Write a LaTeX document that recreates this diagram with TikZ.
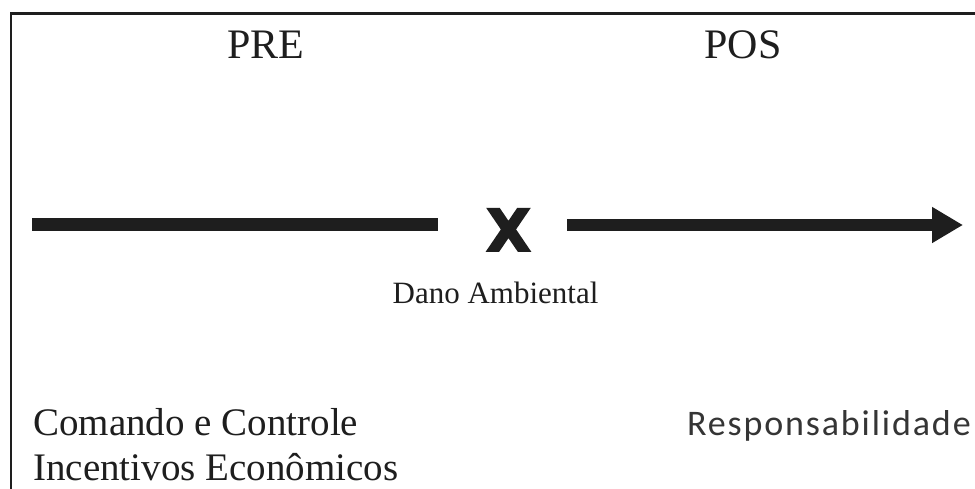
\documentclass[tikz,border=0pt]{standalone}
\usepackage{fontspec}
\setmainfont{Liberation Serif}
\newfontfamily\xfont[FakeBold=3]{DejaVu Sans Bold}
\newfontfamily\calfont[LetterSpace=5.2]{Carlito}
\usetikzlibrary{arrows.meta}
\definecolor{ink}{HTML}{1E1E1E}
\tikzset{
  lbl/.style={inner sep=0pt, text=ink},
  bar/.style={draw=ink, line width=13pt, line cap=butt},
}
\begin{document}
\begin{tikzpicture}[x=1pt,y=-1pt]
\useasboundingbox (0,0) rectangle (975,488);
\clip (0,0) rectangle (975,488);
\fill[white] (0,0) rectangle (975,488);
\draw[ink, line width=2.8pt] (11,520) -- (11,13.5) -- (1000,13.5);
\node[lbl, anchor=base, font=\fontsize{42}{42}\selectfont] (pre) at (266,58) {PRE};
\node[lbl, anchor=base, font=\fontsize{42}{42}\selectfont] (pos) at (743,58) {POS};
\coordinate (a1) at (32,224.5);
\coordinate (a2) at (438,224.5);
\draw[bar] (a1) -- (a2);
\node[lbl, anchor=base, font=\xfont\fontsize{58}{58}\selectfont] (x) at (508.5,251) {X};
\coordinate (b1) at (567,225);
\coordinate (b2) at (963,225);
\draw[bar, line width=12pt, -{Triangle[length=31pt,width=34pt]}] (b1) -- (b2);
\node[lbl, anchor=base, font=\fontsize{31}{31}\selectfont] (dano) at (495.5,303) {Dano Ambiental};
\node[lbl, anchor=base west, font=\fontsize{39}{39}\selectfont] (cc) at (33,435) {Comando e Controle};
\node[lbl, anchor=base west, font=\fontsize{39}{39}\selectfont] (ie) at (33,480) {Incentivos Econômicos};
\node[lbl, anchor=base east, text=ink!90, font=\calfont\fontsize{36}{36}\selectfont] (resp) at (971,435) {Responsabilidade};
\end{tikzpicture}
\end{document}
